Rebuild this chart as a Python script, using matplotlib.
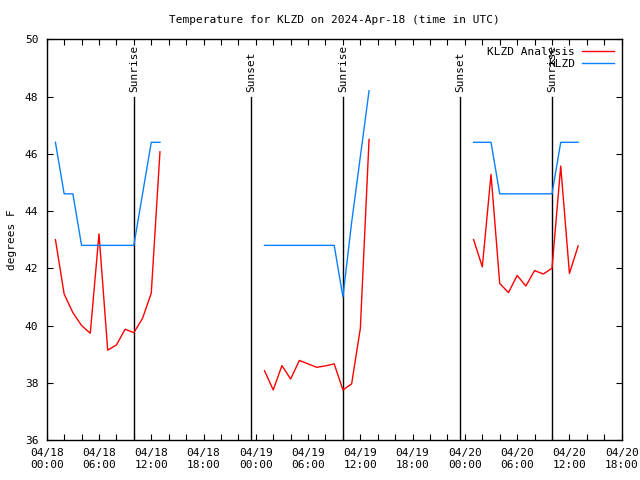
import numpy as np
import matplotlib
matplotlib.use("Agg")
from matplotlib import pyplot as plt

# hours after 04/18 00:00 UTC
hours_d1 = [1, 2, 3, 4, 5, 6, 7, 8, 9, 10, 11, 12, 13]
hours_d2 = [25, 26, 27, 28, 29, 30, 31, 32, 33, 34, 35, 36, 37]
hours_d3 = [49, 50, 51, 52, 53, 54, 55, 56, 57, 58, 59, 60, 61]

analysis_d1 = [43.0, 41.1, 40.45, 40.0, 39.73, 43.2, 39.14, 39.32, 39.87, 39.75, 40.25, 41.13, 46.07]
analysis_d2 = [38.42, 37.75, 38.6, 38.13, 38.78, 38.66, 38.54, 38.59, 38.66, 37.75, 37.96, 39.9, 46.5]
analysis_d3 = [43.0, 42.05, 45.28, 41.47, 41.15, 41.75, 41.38, 41.92, 41.8, 42.0, 45.57, 41.82, 42.78]

obs_d1 = [46.4, 44.6, 44.6, 42.8, 42.8, 42.8, 42.8, 42.8, 42.8, 42.8, 44.6, 46.4, 46.4]
obs_d2 = [42.8, 42.8, 42.8, 42.8, 42.8, 42.8, 42.8, 42.8, 42.8, 41.0, 43.6, 45.9, 48.2]
obs_d3 = [46.4, 46.4, 46.4, 44.6, 44.6, 44.6, 44.6, 44.6, 44.6, 44.6, 46.4, 46.4, 46.4]

sunrise = [10.05, 34.03, 58.02]
sunset = [23.45, 47.47]

tick_hours = np.arange(0, 67, 6)
tick_labels = ["04/18\n00:00", "04/18\n06:00", "04/18\n12:00", "04/18\n18:00",
               "04/19\n00:00", "04/19\n06:00", "04/19\n12:00", "04/19\n18:00",
               "04/20\n00:00", "04/20\n06:00", "04/20\n12:00", "04/20\n18:00"]

font = "DejaVu Sans Mono"
fs = 8
red = "#ff0000"
blue = "#0a80ff"

fig = plt.figure(figsize=(6.4, 4.8), dpi=100)
ax = fig.add_axes([0.073, 0.0833, 0.8984, 0.8349])

# sunrise / sunset lines
for h in sunrise:
    ax.plot([h, h], [36, 48], color="black", lw=1)
    ax.text(h, 48.15, "Sunrise", rotation=90, ha="center", va="bottom",
            fontsize=fs, family=font)
for h in sunset:
    ax.plot([h, h], [36, 48], color="black", lw=1)
    ax.text(h, 48.15, "Sunset", rotation=90, ha="center", va="bottom",
            fontsize=fs, family=font)

# data
first = True
for hh, a, o in [(hours_d1, analysis_d1, obs_d1),
                 (hours_d2, analysis_d2, obs_d2),
                 (hours_d3, analysis_d3, obs_d3)]:
    ax.plot(hh, a, color=red, lw=1, label="KLZD Analysis" if first else None)
    ax.plot(hh, o, color=blue, lw=1, label="KLZD" if first else None)
    first = False

ax.set_xlim(0, 66)
ax.set_ylim(36, 50)
ax.set_xticks(tick_hours)
ax.set_xticklabels(tick_labels, fontsize=fs, family=font)
ax.set_xticks(np.arange(0, 67, 2), minor=True)
ax.set_yticks(np.arange(36, 51, 2))
ax.set_yticklabels([str(v) for v in range(36, 51, 2)], fontsize=fs, family=font)
ax.tick_params(which="both", direction="in", top=True, right=True, length=4, width=0.8, pad=6)
for s in ax.spines.values():
    s.set_linewidth(1)

ax.set_ylabel("degrees F", fontsize=fs, family=font, labelpad=6)
ax.set_title("Temperature for KLZD on 2024-Apr-18 (time in UTC)", fontsize=fs,
             family=font, pad=12)

leg = ax.legend(loc="upper right", frameon=False, markerfirst=False,
                prop={"family": font, "size": fs}, handlelength=2.9,
                borderaxespad=0.3, labelspacing=0.2, handletextpad=0.6)
for t in leg.get_texts():
    t.set_ha("right")

fig.savefig("out.png", dpi=100)
